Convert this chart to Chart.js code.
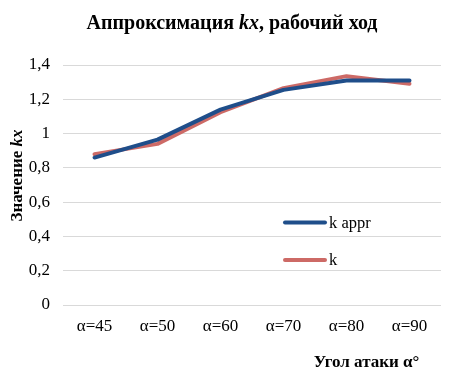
<!DOCTYPE html>
<html>
<head>
<meta charset="utf-8">
<script src="https://cdn.jsdelivr.net/npm/chart.js@4/dist/chart.umd.min.js"></script>
<style>
html,body{margin:0;padding:0;background:#fff;}
#wrap{width:455px;height:376px;position:relative;}
</style>
</head>
<body>
<div id="wrap"><canvas id="c" width="455" height="376"></canvas></div>
<script>
const categories = ['α=45','α=50','α=60','α=70','α=80','α=90'];
const kApprValues = [0.86, 0.965, 1.14, 1.255, 1.31, 1.31];
const kValues = [0.88, 0.94, 1.125, 1.265, 1.335, 1.29];
const seriesNames = ['k appr', 'k'];
const yTickLabels = ['0','0,2','0,4','0,6','0,8','1','1,2','1,4'];

const FONT = "'Liberation Serif', 'Times New Roman', serif";

function drawRuns(ctx, runs, x, y, align) {
  let total = 0;
  runs.forEach(r => { ctx.font = r.font; total += ctx.measureText(r.text).width; });
  let cx = align === 'center' ? x - total / 2 : x;
  runs.forEach(r => {
    ctx.font = r.font;
    ctx.fillText(r.text, cx, y);
    cx += ctx.measureText(r.text).width;
  });
}

const textPlugin = {
  id: 'textPlugin',
  afterDraw(chart) {
    const ctx = chart.ctx;
    ctx.save();
    ctx.fillStyle = '#000';
    ctx.textBaseline = 'alphabetic';
    // Title
    drawRuns(ctx, [
      {text: 'Аппроксимация ', font: 'bold 20px ' + FONT},
      {text: 'kx', font: 'italic bold 20px ' + FONT},
      {text: ', рабочий ход', font: 'bold 20px ' + FONT}
    ], 232, 28.5, 'center');
    // X axis title
    drawRuns(ctx, [{text: 'Угол атаки α°', font: 'bold 17px ' + FONT}], 366.5, 367, 'center');
    // Y axis title
    ctx.save();
    ctx.translate(21.5, 175.5);
    ctx.rotate(-Math.PI / 2);
    drawRuns(ctx, [
      {text: 'Значение ', font: 'bold 17px ' + FONT},
      {text: 'kx', font: 'italic bold 17px ' + FONT}
    ], 0, 0, 'center');
    ctx.restore();
    // Legend
    const ds = chart.data.datasets;
    const legendY = [222.5, 260];
    ds.forEach((d, i) => {
      const y = legendY[i];
      ctx.strokeStyle = d.borderColor;
      ctx.lineWidth = 4;
      ctx.lineCap = 'round';
      ctx.beginPath();
      ctx.moveTo(285, y);
      ctx.lineTo(325, y);
      ctx.stroke();
      ctx.font = '16.5px ' + FONT;
      ctx.textBaseline = 'middle';
      ctx.fillStyle = '#000';
      ctx.fillText(d.label, 329, y + 1);
    });
    ctx.restore();
  }
};

new Chart(document.getElementById('c'), {
  type: 'line',
  data: {
    labels: categories,
    datasets: [
      {label: seriesNames[0], data: kApprValues, borderColor: '#1F4E8A', backgroundColor: '#1F4E8A', borderWidth: 4, pointRadius: 0, tension: 0, borderCapStyle: 'round', borderJoinStyle: 'round'},
      {label: seriesNames[1], data: kValues, borderColor: '#CD6A66', backgroundColor: '#CD6A66', borderWidth: 4, pointRadius: 0, tension: 0, borderCapStyle: 'round', borderJoinStyle: 'round'}
    ]
  },
  options: {
    responsive: false,
    animation: false,
    layout: {padding: {top: 65, right: 14, left: 0, bottom: 0}},
    plugins: {legend: {display: false}, title: {display: false}, tooltip: {enabled: false}},
    scales: {
      x: {
        offset: true,
        grid: {display: false, drawTicks: false},
        border: {display: false},
        ticks: {color: '#000', font: {family: FONT, size: 17}, padding: 11, maxRotation: 0, autoSkip: false},
        afterFit(s) { s.height = 71; }
      },
      y: {
        min: 0, max: 1.4,
        grid: {color: '#D9D9D9', lineWidth: 1, drawTicks: false},
        border: {display: false},
        ticks: {
          stepSize: 0.2, color: '#000', font: {family: FONT, size: 17}, padding: 13,
          callback: (v, i) => yTickLabels[i]
        },
        afterFit(s) { s.width = 63; }
      }
    }
  },
  plugins: [textPlugin]
});
</script>
</body>
</html>
